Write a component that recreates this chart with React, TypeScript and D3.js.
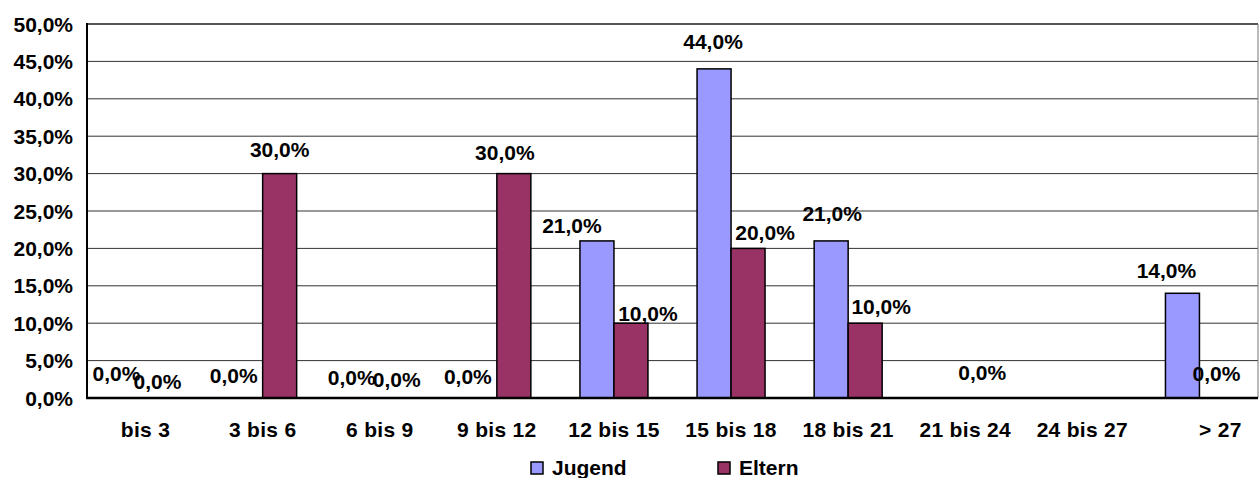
import React from "react";
import * as d3 from "d3";

const categories = ["bis 3", "3 bis 6", "6 bis 9", "9 bis 12", "12 bis 15", "15 bis 18", "18 bis 21", "21 bis 24", "24 bis 27", "> 27"];
const jugend: (number | null)[] = [0, 0, 0, 0, 21, 44, 21, null, null, 14];
const eltern: (number | null)[] = [0, 30, 0, 30, 10, 20, 10, 0, null, 0];
const yTicks = [0, 5, 10, 15, 20, 25, 30, 35, 40, 45, 50];
const seriesNames = ["Jugend", "Eltern"];
const seriesColors = ["#9999FF", "#993366"];

// label placement tweaks (dx, dy from bar top) to mimic original overlapping labels
const jugendLabelOffset: [number, number][] = [[-12, -25], [-12, -23], [-11, -21], [-12, -22], [-25, -15], [-1, -27], [1, -27], [0, 0], [0, 0], [-16, -23]];
const elternLabelOffset: [number, number][] = [[-5, -17], [0, -24], [0, -19], [-9, -21], [17, -10], [17, -16], [16, -17], [0, -26], [0, 0], [0, -25]];

const W = 1259, H = 478;
const M = { left: 87, right: 1258, top: 24, bottom: 398 };
const FONT = "'Liberation Sans', Arial, Helvetica, sans-serif";

function T({ x, y, children, anchor = "middle", size = 21, ls = 0 }: any) {
  return (
    <text
      x={x}
      y={y}
      textAnchor={anchor}
      dominantBaseline="central"
      fontFamily={FONT}
      fontWeight="bold"
      fontSize={size}
      letterSpacing={ls}
      fill="#000"
    >
      {children}
    </text>
  );
}

const fmt = (v: number) => v.toFixed(1).replace(".", ",") + "%";

export default function App() {
  const x = d3.scaleBand<string>().domain(categories).range([M.left, M.right]).paddingInner(0).paddingOuter(0);
  const y = d3.scaleLinear().domain([0, 50]).range([M.bottom, M.top]);
  const bw = 34;
  const series = [jugend, eltern];
  const offsets = [jugendLabelOffset, elternLabelOffset];
  const center = (c: string) => (x(c) as number) + x.bandwidth() / 2;

  return (
    <div>
      <style>{`body{margin:0}`}</style>
      <svg width={W} height={H} style={{ display: "block", background: "#fff" }}>
        {/* gridlines */}
        {yTicks.map((t) => (
          <line key={t} x1={M.left} x2={M.right} y1={y(t)} y2={y(t)} stroke="#333" strokeWidth={1} />
        ))}
        <line x1={M.left} x2={M.right} y1={M.top} y2={M.top} stroke="#555" strokeWidth={2} />
        <line x1={M.right} x2={M.right} y1={M.top} y2={M.bottom} stroke="#777" strokeWidth={1} />
        {/* bars */}
        {series.map((s, si) =>
          s.map((v, i) => {
            if (v === null || v === 0) return null;
            const c = center(categories[i]);
            const bx = si === 0 ? c - bw : c;
            return (
              <rect key={`${si}-${i}`} x={bx} y={y(v)} width={bw} height={y(0) - y(v)} fill={seriesColors[si]} stroke="#000" strokeWidth={1.5} />
            );
          })
        )}
        {/* axes */}
        <line x1={M.left} x2={M.left} y1={M.top - 1} y2={M.bottom + 1} stroke="#000" strokeWidth={2} />
        <line x1={M.left - 1} x2={M.right} y1={M.bottom} y2={M.bottom} stroke="#000" strokeWidth={2.5} />
        {/* y tick labels */}
        {yTicks.map((t) => (
          <T key={t} x={73} y={y(t)} anchor="end">{fmt(t)}</T>
        ))}
        {/* category labels */}
        {categories.map((c) => (
          <T key={c} x={center(c) + (c === "> 27" ? 21 : 0)} y={429} ls={0.3}>{c}</T>
        ))}
        {/* value labels */}
        {series.map((s, si) =>
          s.map((v, i) => {
            if (v === null) return null;
            const c = center(categories[i]);
            const bc = si === 0 ? c - bw / 2 : c + bw / 2;
            const [dx, dy] = offsets[si][i];
            return (
              <T key={`l${si}-${i}`} x={bc + dx} y={y(v) + dy}>{fmt(v)}</T>
            );
          })
        )}
        {/* legend */}
        {seriesNames.map((n, i) => {
          const lx = i === 0 ? 531 : 718;
          return (
            <g key={n}>
              <rect x={lx} y={462} width={12} height={12} fill={seriesColors[i]} stroke="#000" strokeWidth={1.5} />
              <T x={lx + 21} y={467} anchor="start">{n}</T>
            </g>
          );
        })}
      </svg>
    </div>
  );
}
